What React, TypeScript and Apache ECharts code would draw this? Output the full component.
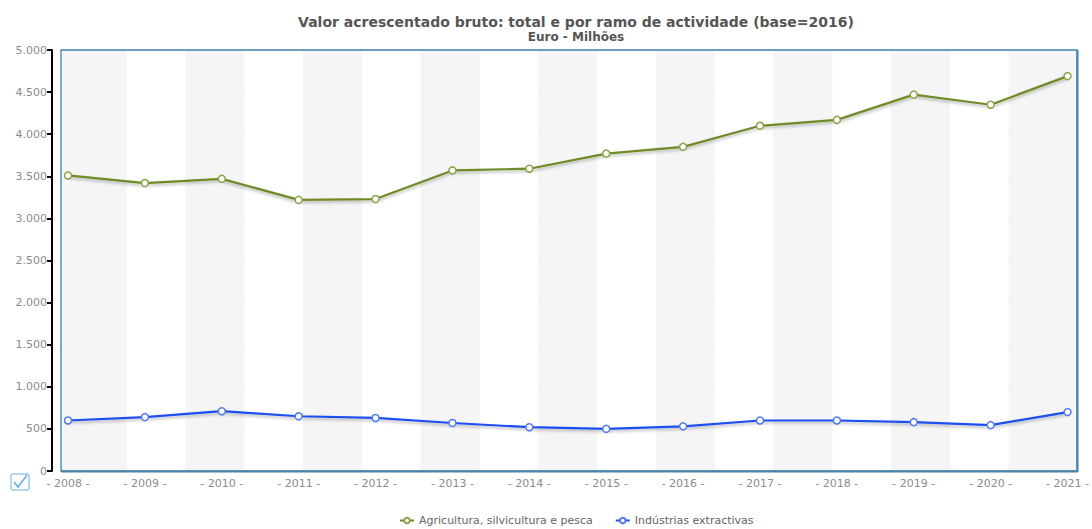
import React, { useEffect, useRef } from "react";
import * as echarts from "echarts";

const years = ["2008", "2009", "2010", "2011", "2012", "2013", "2014", "2015", "2016", "2017", "2018", "2019", "2020", "2021"];
const agricultura = [3510, 3420, 3470, 3220, 3230, 3570, 3590, 3770, 3850, 4100, 4170, 4470, 4350, 4690];
const extractivas = [600, 640, 710, 650, 630, 570, 520, 500, 530, 600, 600, 580, 545, 700];
const seriesNames = ["Agricultura, silvicultura e pesca", "Indústrias extractivas"];
const titleText = "Valor acrescentado bruto: total e por ramo de actividade (base=2016)";
const subtitleText = "Euro - Milhões";

const fmt = (v: number) => String(Math.round(v)).replace(/\B(?=(\d{3})+(?!\d))/g, ".");

export default function App() {
  const ref = useRef<HTMLDivElement>(null);
  useEffect(() => {
    if (!ref.current) return;
    const chart = echarts.init(ref.current, null, { renderer: "svg" });
    const font = "'DejaVu Sans', Verdana, sans-serif";
    const shadow = { shadowColor: "rgba(0,0,0,0.28)", shadowBlur: 3, shadowOffsetY: 2 };
    chart.setOption({
      animation: false,
      backgroundColor: "#ffffff",
      textStyle: { fontFamily: font },
      title: [
        {
          text: titleText,
          left: 571,
          textAlign: "center",
          top: 10,
          textStyle: { fontSize: 14, fontWeight: "bold", color: "#555555", fontFamily: font },
        },
        {
          text: subtitleText,
          left: 571,
          textAlign: "center",
          top: 26,
          textStyle: { fontSize: 12, fontWeight: "bold", color: "#555555", fontFamily: font },
        },
      ],
      legend: {
        bottom: -2,
        left: 394,
        itemWidth: 14,
        itemHeight: 7,
        itemGap: 22,
        textStyle: { fontSize: 11, color: "#666666", fontFamily: font },
        data: seriesNames,
      },
      grid: { left: 68, right: 17, top: 50, bottom: 58 },
      graphic: [
        {
          type: "rect",
          z: -10,
          silent: true,
          shape: { x: 61, y: 50, width: 1017, height: 421 },
          style: { fill: "#f5f5f5" },
        },
        {
          type: "rect",
          z: 50,
          silent: true,
          shape: { x: 61, y: 50, width: 1016, height: 421 },
          style: { fill: "none", stroke: "#3d7fae", lineWidth: 1.3 },
        },
        {
          type: "line",
          z: 51,
          silent: true,
          shape: { x1: 61, y1: 471.5, x2: 1078, y2: 471.5 },
          style: { stroke: "#4b84a6", lineWidth: 2 },
        },
        {
          type: "line",
          z: 51,
          silent: true,
          shape: { x1: 1077.5, y1: 50, x2: 1077.5, y2: 472 },
          style: { stroke: "#4b84a6", lineWidth: 2 },
        },
        {
          type: "rect",
          z: 51,
          silent: true,
          shape: { x: 11, y: 474, width: 18, height: 16, r: 2 },
          style: { fill: "#ffffff", stroke: "#9ccaf2", lineWidth: 1.5 },
        },
        {
          type: "polyline",
          z: 52,
          silent: true,
          shape: { points: [[14, 482], [18, 487], [27, 475]] },
          style: { fill: "none", stroke: "#5aaaf0", lineWidth: 1.4 },
        },
      ],
      xAxis: [
        {
          type: "category",
          data: years,
          boundaryGap: false,
          axisLine: { show: false },
          axisTick: { show: false },
          splitLine: { show: false },
          axisLabel: {
            formatter: (v: string) => "- " + v + " -",
            fontSize: 11,
            color: "#8c8c8c",
            margin: 7,
            fontFamily: font,
          },
        },
        {
          type: "value",
          min: 0,
          max: 17,
          interval: 1,
          position: "top",
          axisLine: { show: false, onZero: false },
          axisTick: { show: false },
          axisLabel: { show: false },
          splitLine: { show: false },
          splitArea: { show: true, areaStyle: { color: ["#f5f5f5", "#ffffff"] } },
        },
      ],
      yAxis: {
        type: "value",
        min: 0,
        max: 5000,
        interval: 500,
        offset: 16,
        axisLine: { show: true, onZero: false, lineStyle: { color: "#000000", width: 2 } },
        axisTick: { show: true, length: 5, lineStyle: { color: "#000000", width: 2 } },
        axisLabel: {
          formatter: (v: number) => fmt(v),
          fontSize: 11,
          color: "#8c8c8c",
          margin: 5,
          fontFamily: font,
        },
        splitLine: { show: true, lineStyle: { color: "#cfcfcf", type: [2, 3], width: 1 } },
      },
      series: [
        {
          name: seriesNames[0],
          type: "line",
          xAxisIndex: 0,
          data: agricultura,
          symbol: "circle",
          symbolSize: 7,
          z: 5,
          lineStyle: { color: "#6f8b26", width: 2.2, ...shadow },
          itemStyle: { color: "#ffffff", borderColor: "#8aa548", borderWidth: 1.5 },
        },
        {
          name: seriesNames[1],
          type: "line",
          xAxisIndex: 0,
          data: extractivas,
          symbol: "circle",
          symbolSize: 7,
          z: 5,
          lineStyle: { color: "#1f4ff0", width: 2.2, ...shadow },
          itemStyle: { color: "#ffffff", borderColor: "#4d7af5", borderWidth: 1.5 },
        },
      ],
    });
    return () => chart.dispose();
  }, []);
  return <div ref={ref} style={{ position: "fixed", left: 0, top: 0, width: 1092, height: 529 }} />;
}
